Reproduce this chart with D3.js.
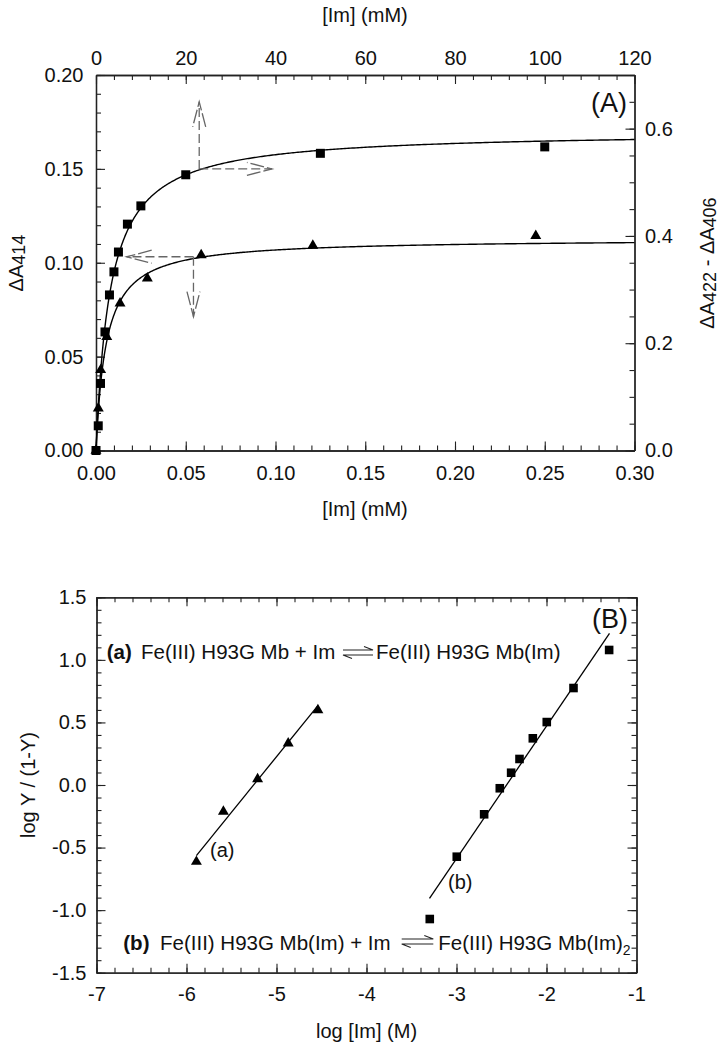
<!DOCTYPE html>
<html>
<head>
<meta charset="utf-8">
<script src="https://cdn.jsdelivr.net/npm/d3@7"></script>
<style>
  html, body { margin: 0; padding: 0; background: #fff; }
  svg { display: block; }
  text { font-family: "Liberation Sans", Arial, Helvetica, sans-serif; fill: #111; }
</style>
</head>
<body>
<svg id="chart" width="722" height="1050"></svg>
<script>
// ---------------- DATA ----------------
// Panel A: squares -> top axis [Im] (mM), right axis ΔA422-ΔA406
const sqX = [0, 0.5, 1, 2, 3, 4, 5, 7, 10, 20, 50, 100];
const sqY = [0, 0.046, 0.125, 0.221, 0.290, 0.333, 0.370, 0.422, 0.456, 0.514, 0.554, 0.566];
// Panel A: triangles -> bottom axis [Im] (mM), left axis ΔA414
const triX = [0, 0.00128, 0.0026, 0.0060, 0.0134, 0.0286, 0.0586, 0.1208, 0.245];
const triY = [0, 0.0225, 0.0429, 0.0606, 0.0784, 0.0917, 0.1041, 0.1091, 0.1144];
// Hyperbolic fit parameters (Bmax, Kd)
const sqFit = { bmax: 0.595, kd: 3.16 };
const triFit = { bmax: 0.1128, kd: 0.00562 };
// Dashed guide arrows (axis assignment)
const sqArrow = { x: 23.0, y: 0.525, upTo: 0.650, rightTo: 39.2 };
const triArrow = { x: 0.0543, y: 0.1032, leftTo: 0.0171, downTo: 0.0713 };

// Panel B: Hill plots
const hillAX = [-5.89, -5.59, -5.21, -4.87, -4.54];
const hillAY = [-0.613, -0.213, 0.048, 0.333, 0.599];
const hillBX = [-3.297, -2.997, -2.693, -2.519, -2.393, -2.30, -2.152, -1.997, -1.70, -1.304];
const hillBY = [-1.071, -0.573, -0.234, -0.026, 0.098, 0.208, 0.373, 0.503, 0.775, 1.079];
const lineAX = [-5.89, -4.54];
const lineAY = [-0.565, 0.635];
const lineBX = [-3.30, -1.30];
const lineBY = [-0.906, 1.212];

// Tick values
const aBottomTicks = [0, 0.05, 0.10, 0.15, 0.20, 0.25, 0.30];
const aTopTicks = [0, 20, 40, 60, 80, 100, 120];
const aLeftTicks = [0, 0.05, 0.10, 0.15, 0.20];
const aRightTicks = [0, 0.2, 0.4, 0.6];
const bXTicks = [-7, -6, -5, -4, -3, -2, -1];
const bYTicks = [-1.5, -1.0, -0.5, 0.0, 0.5, 1.0, 1.5];

// ---------------- LAYOUT ----------------
const svg = d3.select("#chart");
const FS = 20;
const A = { l: 96, r: 634.5, t: 75, b: 450.5 };
const B = { l: 96.5, r: 636.5, t: 597.3, b: 972.7 };

const xBot = d3.scaleLinear([0, 0.3], [A.l, A.r]);
const xTop = d3.scaleLinear([0, 120], [A.l, A.r]);
const yLeft = d3.scaleLinear([0, 0.2], [A.b, A.t]);
const yRight = d3.scaleLinear([0, 0.7], [A.b, A.t]);
const xB = d3.scaleLinear([-7, -1], [B.l, B.r]);
const yB = d3.scaleLinear([-1.5, 1.5], [B.b, B.t]);

function minorRange(a, b, step) {
  const n = Math.round((b - a) / step);
  return d3.range(n + 1).map(i => +(a + i * step).toFixed(6));
}

function axis(gen, scale, transform, majors, minors, fmt, pad) {
  const g = svg.append("g").attr("transform", transform);
  g.append("g").call(gen(scale).tickValues(minors).tickSize(-5).tickSizeOuter(0).tickFormat(""));
  const m = g.append("g").call(gen(scale).tickValues(majors).tickSize(-9).tickSizeOuter(0)
      .tickPadding(pad).tickFormat(fmt ? d3.format(fmt) : ""));
  g.selectAll("path.domain").attr("stroke", "#222").attr("stroke-width", 1.3);
  g.selectAll(".tick line").attr("stroke", "#222").attr("stroke-width", 1.1);
  m.selectAll("text").attr("font-size", FS).attr("fill", "#111")
    .attr("font-family", '"Liberation Sans", Arial, sans-serif');
  return m;
}

// Panel A axes
axis(d3.axisBottom, xBot, `translate(0,${A.b})`, aBottomTicks, minorRange(0, 0.3, 0.01), ".2f", 15.3);
axis(d3.axisTop, xTop, `translate(0,${A.t})`, aTopTicks, minorRange(0, 120, 4), "d", 10);
axis(d3.axisLeft, yLeft, `translate(${A.l},0)`, aLeftTicks, minorRange(0, 0.2, 0.01), ".2f", 12.5);
axis(d3.axisRight, yRight, `translate(${A.r},0)`, aRightTicks, minorRange(0, 0.7, 0.05), ".1f", 10.5);

// Panel B axes
const fmtB = d => (d < 0 ? "-" : "") + Math.abs(d).toFixed(1);
const fmtBx = d => (d < 0 ? "-" : "") + Math.abs(d);
{
  const gb = axis(d3.axisBottom, xB, `translate(0,${B.b})`, bXTicks, minorRange(-7, -1, 0.2), null, 14.1);
  gb.selectAll("text").text(fmtBx).attr("font-size", FS);
  axis(d3.axisTop, xB, `translate(0,${B.t})`, bXTicks, minorRange(-7, -1, 0.2), null, 10);
  const gl = axis(d3.axisLeft, yB, `translate(${B.l},0)`, bYTicks, minorRange(-1.5, 1.5, 0.1), null, 10);
  gl.selectAll("text").text(fmtB).attr("font-size", FS);
  axis(d3.axisRight, yB, `translate(${B.r},0)`, bYTicks, minorRange(-1.5, 1.5, 0.1), null, 10);
}
// remove empty labels
svg.selectAll(".tick text").filter(function(){ return this.textContent === ""; }).remove();

// ---------------- PANEL A MARKS ----------------
const line = d3.line().x(d => d[0]).y(d => d[1]);
const N = 400;
const sqCurve = d3.range(N + 1).map(i => {
  const x = 120 * Math.pow(i / N, 2);
  return [xTop(x), yRight(sqFit.bmax * x / (sqFit.kd + x))];
});
const triCurve = d3.range(N + 1).map(i => {
  const x = 0.3 * Math.pow(i / N, 2);
  return [xBot(x), yLeft(triFit.bmax * x / (triFit.kd + x))];
});
svg.append("path").attr("d", line(sqCurve)).attr("fill", "none").attr("stroke", "#000").attr("stroke-width", 1.4);
svg.append("path").attr("d", line(triCurve)).attr("fill", "none").attr("stroke", "#000").attr("stroke-width", 1.4);

// dashed arrows
const dash = { stroke: "#666", w: 1.3, da: "9,4" };
function dashedArrow(x1, y1, x2, y2) {
  const g = svg.append("g").attr("fill", "none").attr("stroke", dash.stroke)
    .attr("stroke-width", dash.w).attr("stroke-dasharray", dash.da);
  g.append("path").attr("d", `M${x1},${y1}L${x2},${y2}`);
  const ang = Math.atan2(y2 - y1, x2 - x1);
  const L = 25, S = 6.5;
  const bx = x2 - L * Math.cos(ang), by = y2 - L * Math.sin(ang);
  const px = -Math.sin(ang) * S, py = Math.cos(ang) * S;
  g.append("path").attr("stroke-dasharray", "14,3")
    .attr("d", `M${bx + px},${by + py}L${x2},${y2}L${bx - px},${by - py}`);
}
dashedArrow(xTop(sqArrow.x), yRight(sqArrow.y), xTop(sqArrow.x), yRight(sqArrow.upTo));
dashedArrow(xTop(sqArrow.x), yRight(sqArrow.y), xTop(sqArrow.rightTo), yRight(sqArrow.y));
dashedArrow(xBot(triArrow.x), yLeft(triArrow.y), xBot(triArrow.leftTo), yLeft(triArrow.y));
dashedArrow(xBot(triArrow.x), yLeft(triArrow.y), xBot(triArrow.x), yLeft(triArrow.downTo));

const triSym = d3.symbol().type(d3.symbolTriangle).size(52);
const sqSym = d3.symbol().type(d3.symbolSquare).size(81);
svg.append("g").selectAll("path").data(triX.map((x, i) => [x, triY[i]])).join("path")
  .attr("d", triSym).attr("transform", d => `translate(${xBot(d[0])},${yLeft(d[1])})`).attr("fill", "#000");
svg.append("g").selectAll("path").data(sqX.map((x, i) => [x, sqY[i]])).join("path")
  .attr("d", sqSym).attr("transform", d => `translate(${xTop(d[0])},${yRight(d[1])})`).attr("fill", "#000");

// ---------------- PANEL B MARKS ----------------
svg.append("path").attr("d", line(lineAX.map((x, i) => [xB(x), yB(lineAY[i])])))
  .attr("stroke", "#000").attr("stroke-width", 1.3).attr("fill", "none");
svg.append("path").attr("d", line(lineBX.map((x, i) => [xB(x), yB(lineBY[i])])))
  .attr("stroke", "#000").attr("stroke-width", 1.3).attr("fill", "none");
svg.append("g").selectAll("path").data(hillAX.map((x, i) => [x, hillAY[i]])).join("path")
  .attr("d", triSym).attr("transform", d => `translate(${xB(d[0])},${yB(d[1])})`).attr("fill", "#000");
const sqSymB = d3.symbol().type(d3.symbolSquare).size(74);
svg.append("g").selectAll("path").data(hillBX.map((x, i) => [x, hillBY[i]])).join("path")
  .attr("d", sqSymB).attr("transform", d => `translate(${xB(d[0])},${yB(d[1])})`).attr("fill", "#000");

// ---------------- TEXT ----------------
function txt(x, y, s, opts = {}) {
  const t = svg.append("text").attr("x", x).attr("y", y).attr("font-size", opts.size || FS)
    .attr("text-anchor", opts.anchor || "start").text(s);
  if (opts.bold) t.attr("font-weight", "bold");
  return t;
}
// Panel A titles
txt(365, 22, "[Im] (mM)", { anchor: "middle" });
txt(365, 516, "[Im] (mM)", { anchor: "middle" });
{
  const t = svg.append("text").attr("transform", "translate(23,263) rotate(-90)")
    .attr("text-anchor", "middle").attr("font-size", FS);
  t.append("tspan").text("ΔA");
  t.append("tspan").attr("dy", 2).attr("font-size", 18).text("414");
}
{
  const t = svg.append("text").attr("transform", "translate(714,263) rotate(-90)")
    .attr("text-anchor", "middle").attr("font-size", FS);
  t.append("tspan").text("ΔA");
  t.append("tspan").attr("dy", 2).attr("font-size", 18).text("422");
  t.append("tspan").attr("dy", -2).text(" - ΔA");
  t.append("tspan").attr("dy", 2).attr("font-size", 18).text("406");
}
txt(627, 111.5, "(A)", { anchor: "end", size: 27 });

// Panel B titles
txt(366.5, 1038, "log [Im] (M)", { anchor: "middle" });
svg.append("text").attr("transform", "translate(35,785) rotate(-90)")
  .attr("text-anchor", "middle").attr("font-size", FS).text("log Y / (1-Y)");
txt(628, 627.5, "(B)", { anchor: "end", size: 27 });

txt(210, 857, "(a)");
txt(448, 889, "(b)");

const EQ = 20.5;
function harpoons(x1, x2, yTop, yBot) {
  const g = svg.append("g").attr("stroke", "#222").attr("stroke-width", 1.1).attr("fill", "none");
  g.append("path").attr("d", `M${x1},${yTop}H${x2}l-9,-3.5`);
  g.append("path").attr("d", `M${x2},${yBot}H${x1}l9,3.5`);
}
// Equation (a)
txt(106.7, 659, "(a)", { bold: true, size: EQ });
txt(141, 659, "Fe(III) H93G Mb + Im", { size: EQ });
harpoons(343, 373, 650, 655);
txt(376, 659, "Fe(III) H93G Mb(Im)", { size: EQ });
// Equation (b)
txt(123.3, 950, "(b)", { bold: true, size: EQ });
txt(160, 950, "Fe(III) H93G Mb(Im) + Im", { size: EQ });
harpoons(401.7, 433.3, 939, 944);
{
  const t = txt(438.3, 950, "Fe(III) H93G Mb(Im)", { size: EQ });
  t.append("tspan").attr("dy", 5).attr("font-size", 14).text("2");
}
</script>
</body>
</html>
